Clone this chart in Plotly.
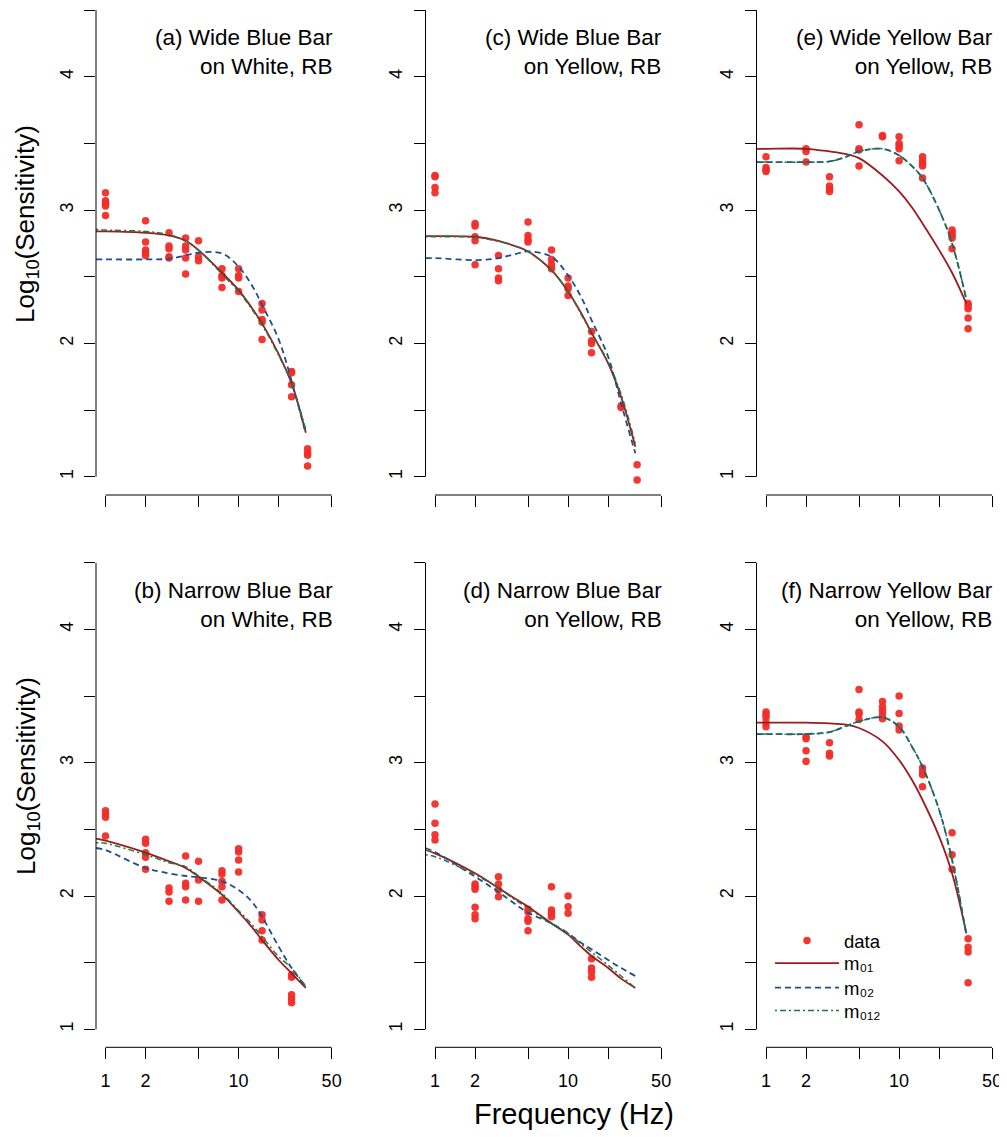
import math
import plotly.graph_objects as go

W, H = 1007, 1137          # browser window
OFF = 8                    # default body margin of the page
WF, HF = W - OFF, H - OFF  # figure size so that it ends exactly at the window edge

# ---------------- data ----------------
FREQ_FIT = [0.85, 1, 2, 3, 4, 5, 7.5, 10, 12.5, 15, 20, 25, 32]

# (a) Wide Blue Bar on White
A_F = [1, 1, 1, 1, 1, 2, 2, 2, 2, 2, 3, 3, 3, 3, 3, 4, 4, 4, 4, 4, 5, 5, 5,
       7.5, 7.5, 7.5, 7.5, 10, 10, 10, 10, 15, 15, 15, 15, 15, 25, 25, 25, 25, 33, 33, 33, 33]
A_S = [3.13, 3.07, 3.05, 3.03, 2.96, 2.92, 2.76, 2.70, 2.68, 2.66, 2.83, 2.73, 2.71, 2.65, 2.64,
       2.79, 2.73, 2.70, 2.64, 2.52, 2.77, 2.65, 2.62, 2.56, 2.51, 2.49, 2.42, 2.56, 2.51, 2.49, 2.39,
       2.30, 2.25, 2.18, 2.16, 2.03, 1.79, 1.78, 1.69, 1.60, 1.21, 1.18, 1.16, 1.08]
A_M01 = [2.84, 2.84, 2.83, 2.81, 2.77, 2.70, 2.53, 2.40, 2.27, 2.15, 1.92, 1.70, 1.33]
A_M02 = [2.63, 2.63, 2.63, 2.635, 2.66, 2.68, 2.675, 2.575, 2.44, 2.29, 2.03, 1.72, 1.32]
A_M012 = [2.855, 2.85, 2.84, 2.815, 2.77, 2.70, 2.52, 2.39, 2.26, 2.14, 1.91, 1.70, 1.35]

# (b) Narrow Blue Bar on White
B_F = [1, 1, 1, 1, 2, 2, 2, 2, 2, 3, 3, 3, 4, 4, 4, 4, 5, 5, 5,
       7.5, 7.5, 7.5, 7.5, 7.5, 10, 10, 10, 10, 15, 15, 15, 15, 25, 25, 25, 25, 25]
B_S = [2.64, 2.615, 2.59, 2.45, 2.425, 2.395, 2.325, 2.29, 2.20, 2.06, 2.03, 1.96,
       2.30, 2.095, 2.07, 1.97, 2.26, 2.12, 1.96, 2.19, 2.165, 2.11, 2.07, 1.97,
       2.355, 2.33, 2.27, 2.18, 1.86, 1.82, 1.74, 1.67, 1.41, 1.39, 1.26, 1.23, 1.20]
B_M01 = [2.43, 2.415, 2.325, 2.26, 2.21, 2.145, 2.01, 1.88, 1.77, 1.67, 1.52, 1.42, 1.31]
B_M02 = [2.36, 2.345, 2.21, 2.17, 2.15, 2.14, 2.11, 2.045, 1.96, 1.845, 1.62, 1.46, 1.32]
B_M012 = [2.40, 2.395, 2.31, 2.25, 2.22, 2.15, 2.02, 1.89, 1.79, 1.695, 1.545, 1.46, 1.32]

# (c) Wide Blue Bar on Yellow
C_F = [1, 1, 1, 1, 2, 2, 2, 2, 2, 3, 3, 3, 3, 5, 5, 5, 5, 7.5, 7.5, 7.5, 7.5,
       10, 10, 10, 10, 15, 15, 15, 15, 25, 25, 33, 33]
C_S = [3.26, 3.25, 3.17, 3.13, 2.90, 2.88, 2.80, 2.77, 2.59, 2.66, 2.56, 2.49, 2.47,
       2.91, 2.81, 2.78, 2.76, 2.70, 2.63, 2.59, 2.56, 2.49, 2.43, 2.41, 2.36,
       2.09, 2.02, 2.00, 1.93, 1.53, 1.52, 1.09, 0.975]
C_M01 = [2.805, 2.805, 2.80, 2.77, 2.73, 2.69, 2.55, 2.39, 2.23, 2.08, 1.85, 1.60, 1.225]
C_M02 = [2.64, 2.64, 2.625, 2.64, 2.67, 2.69, 2.65, 2.51, 2.35, 2.175, 1.90, 1.55, 1.175]
C_M012 = [2.80, 2.80, 2.795, 2.765, 2.73, 2.69, 2.55, 2.39, 2.22, 2.08, 1.86, 1.62, 1.25]

# (d) Narrow Blue Bar on Yellow
D_F = [1, 1, 1, 1, 2, 2, 2, 2, 2, 2, 3, 3, 3, 3, 5, 5, 5, 5, 5,
       7.5, 7.5, 7.5, 7.5, 10, 10, 10, 15, 15, 15, 15]
D_S = [2.69, 2.545, 2.46, 2.42, 2.09, 2.07, 2.05, 1.915, 1.86, 1.83, 2.145, 2.09, 2.045, 1.995,
       1.90, 1.88, 1.83, 1.81, 1.74, 2.07, 1.895, 1.87, 1.845, 2.00, 1.92, 1.87,
       1.53, 1.46, 1.43, 1.39]
D_M01 = [2.345, 2.32, 2.17, 2.06, 1.98, 1.92, 1.795, 1.71, 1.62, 1.55, 1.46, 1.38, 1.31]
D_M02 = [2.36, 2.33, 2.145, 2.03, 1.94, 1.875, 1.795, 1.72, 1.65, 1.60, 1.52, 1.46, 1.40]
D_M012 = [2.31, 2.295, 2.16, 2.06, 1.97, 1.91, 1.79, 1.72, 1.64, 1.58, 1.48, 1.40, 1.31]

# (e) Wide Yellow Bar on Yellow
E_F = [1, 1, 1, 1, 2, 2, 2, 3, 3, 3, 3, 5, 5, 5, 5, 7.5, 7.5, 10, 10, 10, 10, 10,
       15, 15, 15, 15, 15, 25, 25, 25, 25, 25, 33, 33, 33, 33, 33]
E_S = [3.40, 3.32, 3.30, 3.29, 3.46, 3.44, 3.36, 3.25, 3.18, 3.16, 3.14, 3.64, 3.46, 3.45, 3.33,
       3.56, 3.55, 3.55, 3.50, 3.48, 3.46, 3.37, 3.40, 3.37, 3.35, 3.33, 3.24,
       2.85, 2.83, 2.81, 2.79, 2.71, 2.30, 2.28, 2.26, 2.19, 2.11]
E_M01 = [3.46, 3.46, 3.46, 3.44, 3.42, 3.39, 3.26, 3.14, 3.02, 2.90, 2.70, 2.53, 2.30]
E_M02 = [3.36, 3.36, 3.36, 3.365, 3.40, 3.44, 3.46, 3.41, 3.33, 3.24, 3.00, 2.75, 2.33]
E_M012 = [3.36, 3.36, 3.36, 3.365, 3.40, 3.44, 3.46, 3.41, 3.33, 3.24, 3.00, 2.75, 2.33]

# (f) Narrow Yellow Bar on Yellow
F_F = [1, 1, 1, 1, 1, 2, 2, 2, 2, 3, 3, 3, 5, 5, 5, 5, 7.5, 7.5, 7.5, 7.5, 7.5,
       10, 10, 10, 10, 15, 15, 15, 15, 25, 25, 25, 33, 33, 33, 33]
F_S = [3.38, 3.36, 3.34, 3.30, 3.27, 3.195, 3.18, 3.09, 3.01, 3.15, 3.07, 3.05,
       3.55, 3.38, 3.365, 3.325, 3.46, 3.42, 3.39, 3.36, 3.33, 3.50, 3.37, 3.275, 3.245,
       2.96, 2.93, 2.91, 2.82, 2.475, 2.31, 2.20, 1.68, 1.615, 1.58, 1.35]
F_M01 = [3.30, 3.30, 3.30, 3.295, 3.285, 3.26, 3.16, 3.02, 2.87, 2.72, 2.445, 2.17, 1.72]
F_M02 = [3.215, 3.215, 3.215, 3.23, 3.275, 3.31, 3.34, 3.27, 3.12, 2.97, 2.645, 2.27, 1.71]
F_M012 = [3.215, 3.215, 3.215, 3.23, 3.275, 3.31, 3.34, 3.27, 3.12, 2.97, 2.645, 2.27, 1.71]

TITLES = {
    "a": ("(a) Wide Blue Bar", "on White, RB"),
    "b": ("(b) Narrow Blue Bar", "on White, RB"),
    "c": ("(c) Wide Blue Bar", "on Yellow, RB"),
    "d": ("(d) Narrow Blue Bar", "on Yellow, RB"),
    "e": ("(e) Wide Yellow Bar", "on Yellow, RB"),
    "f": ("(f) Narrow Yellow Bar", "on Yellow, RB"),
}
LEGEND_NAMES = ["data", "m₀₁", "m₀₂", "m₀₁₂"]

X_TICKS = [1, 2, 5, 10, 20, 50]
X_TICKTEXT = ["1", "2", "", "10", "", "50"]
Y_TICKS = [1, 1.5, 2, 2.5, 3, 3.5, 4, 4.5]
Y_TICKTEXT = ["1", "", "2", "", "3", "", "4", ""]

PANELS = [
    ("a", A_F, A_S, A_M01, A_M02, A_M012, 0, 0),
    ("b", B_F, B_S, B_M01, B_M02, B_M012, 0, 1),
    ("c", C_F, C_S, C_M01, C_M02, C_M012, 1, 0),
    ("d", D_F, D_S, D_M01, D_M02, D_M012, 1, 1),
    ("e", E_F, E_S, E_M01, E_M02, E_M012, 2, 0),
    ("f", F_F, F_S, F_M01, F_M02, F_M012, 2, 1),
]

# ---------------- layout geometry (window pixels) ----------------
COL_X1 = [105.5, 435.0, 766.0]   # pixel of f = 1 Hz
DEC = 133.1                      # pixels per decade
XR = [-9.5 / DEC, 235.2 / DEC]   # log10 range
ROW_Y1 = [476.7, 1029.3]         # pixel of log sens = 1
UNIT = 133.3
ROW_DOM = [(8.0, 495.0), (544.0, 1047.3)]
LEGEND_ROWS = [941, 963.5, 988, 1011]  # centre of each legend row

RED = "#9E1A1E"
BLUE = "#1F4E8F"
GREEN = "#1E7A45"
PT = "rgba(240,45,40,0.95)"
FONT = "Liberation Sans, Arial, Helvetica, sans-serif"


def px(x):
    return (x - OFF) / WF


def py(y):
    return 1 - (y - OFF) / HF


LEG_IDS = ["legend", "legend2", "legend3", "legend4"]

fig = go.Figure()
shapes = []
annotations = []

for i, (key, fx, fs, m01, m02, m012, col, row) in enumerate(PANELS, start=1):
    xa = "x" if i == 1 else f"x{i}"
    ya = "y" if i == 1 else f"y{i}"
    show = key == "f"
    fig.add_trace(go.Scatter(
        x=fx, y=fs, mode="markers", xaxis=xa, yaxis=ya, name=LEGEND_NAMES[0],
        marker=dict(size=7.5, color=PT, line=dict(width=0)),
        showlegend=show, legend=LEG_IDS[0], cliponaxis=False))
    fig.add_trace(go.Scatter(
        x=FREQ_FIT, y=m01, mode="lines", xaxis=xa, yaxis=ya, name=LEGEND_NAMES[1],
        line=dict(color=RED, width=1.8, shape="spline", smoothing=1.0),
        showlegend=show, legend=LEG_IDS[1]))
    fig.add_trace(go.Scatter(
        x=FREQ_FIT, y=m02, mode="lines", xaxis=xa, yaxis=ya, name=LEGEND_NAMES[2],
        line=dict(color=BLUE, width=1.8, dash="6px,4px", shape="spline", smoothing=1.0),
        showlegend=show, legend=LEG_IDS[2]))
    fig.add_trace(go.Scatter(
        x=FREQ_FIT, y=m012, mode="lines", xaxis=xa, yaxis=ya, name=LEGEND_NAMES[3],
        line=dict(color=GREEN, width=1.5, dash="2px,3px,6px,3px", shape="spline", smoothing=1.0),
        showlegend=show, legend=LEG_IDS[3]))

    x1 = COL_X1[col]
    left = x1 - 9.5
    right = x1 + 235.2
    top, bot = ROW_DOM[row]
    y1 = ROW_Y1[row]
    yr = [1 - (bot - y1) / UNIT, 1 + (y1 - top) / UNIT]

    xkey = "xaxis" if i == 1 else f"xaxis{i}"
    ykey = "yaxis" if i == 1 else f"yaxis{i}"
    fig.layout[xkey] = dict(
        domain=[px(left), px(right)], type="log", range=XR, anchor=ya,
        showgrid=False, zeroline=False, showline=False,
        ticks="outside", ticklen=11, tickwidth=1, tickcolor="black",
        tickvals=X_TICKS, ticktext=X_TICKTEXT if row == 1 else [""] * 6,
        tickfont=dict(family=FONT, size=18, color="black"),
        ticklabelstandoff=6, fixedrange=True)
    fig.layout[ykey] = dict(
        domain=[py(bot), min(1.0, py(top))], range=yr, anchor=xa,
        showgrid=False, zeroline=False, showline=False,
        ticks="outside", ticklen=11, tickwidth=1, tickcolor="black",
        tickvals=Y_TICKS, ticktext=Y_TICKTEXT, tickangle=-90,
        tickfont=dict(family=FONT, size=18, color="black"),
        ticklabelstandoff=4, fixedrange=True)

    # axis lines spanning only the tick range (R style)
    y_at = lambda v: y1 - (v - 1) * UNIT
    x_at = lambda f: x1 + math.log10(f) * DEC
    shapes.append(dict(type="line", xref="paper", yref="paper",
                       x0=px(left), x1=px(left), y0=py(y_at(1)), y1=py(y_at(4.5)),
                       line=dict(color="black", width=1)))
    shapes.append(dict(type="line", xref="paper", yref="paper",
                       x0=px(x_at(1)), x1=px(x_at(50)), y0=py(bot), y1=py(bot),
                       line=dict(color="black", width=1)))

    t1, t2 = TITLES[key]
    title_top = 23 if row == 0 else 23 + 552.6
    annotations.append(dict(
        xref="paper", yref="paper", x=px(right - 6), y=py(title_top),
        xanchor="right", yanchor="top", align="right", showarrow=False,
        text=f"{t1}<br>{t2}", font=dict(family=FONT, size=22.5, color="black")))

# axis titles
for yc in (224, 776):
    annotations.append(dict(
        xref="paper", yref="paper", x=px(27), y=py(yc), xanchor="center", yanchor="middle",
        textangle=-90, showarrow=False, text="Log<sub>10</sub>(Sensitivity)",
        font=dict(family=FONT, size=26, color="black")))
annotations.append(dict(
    xref="paper", yref="paper", x=px(574), y=py(1114), xanchor="center", yanchor="middle",
    showarrow=False, text="Frequency (Hz)", font=dict(family=FONT, size=29, color="black")))

legend_layouts = {}
for lid, yc in zip(LEG_IDS, LEGEND_ROWS):
    legend_layouts[lid] = dict(
        x=px(770), y=py(yc), xanchor="left", yanchor="middle",
        bgcolor="rgba(0,0,0,0)", borderwidth=0, itemwidth=64,
        font=dict(family=FONT, size=18.5, color="black"),
        itemclick=False, itemdoubleclick=False)

fig.update_layout(
    width=WF, height=HF, margin=dict(l=0, r=0, t=0, b=0),
    paper_bgcolor="white", plot_bgcolor="white",
    shapes=shapes, annotations=annotations,
    showlegend=True,
    **legend_layouts,
)

fig.write_html("out.html")
